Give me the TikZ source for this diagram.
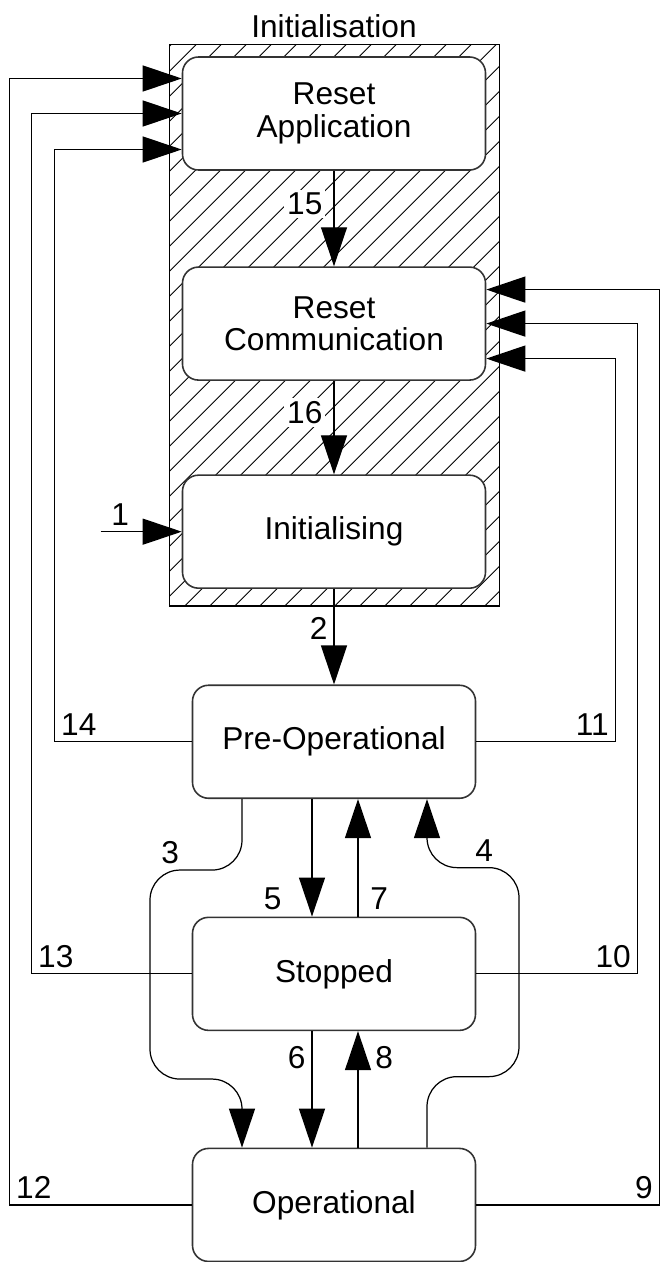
\documentclass[tikz,border=0pt]{standalone}
\usepackage{fontspec}
\setmainfont{Liberation Sans}
\usetikzlibrary{positioning,calc,arrows.meta,backgrounds}
\begin{document}
\begin{tikzpicture}[x=0.2mm,y=0.2mm,font=\fontsize{18}{18.5}\selectfont]
    \tikzset{statebox/.style={draw=black!80,line width=0.9pt,fill=white,
        rounded corners=3.2mm,minimum width=56.6mm,minimum height=22.6mm,
        align=center},resetbox/.style={statebox,minimum width=60.6mm},
      trans/.style={draw,line width=0.7pt,->,>={Triangle[length=7.8mm,width=5.2mm]}},
      hatch/.style={line width=0.5pt},frame/.style={draw,line width=0.8pt},
      lab/.style={fill=white,inner sep=0.6mm}}
    \useasboundingbox (0,0) rectangle (661,-1262);
    \node[resetbox] (ra) at (334,-113.5) {Reset\\Application};
    \node[resetbox] (rc) [below=19.1mm of ra] {Reset\\Communication};
    \node[resetbox] (init) [below=18.7mm of rc] {Initialising};
    \node[statebox] (pre) [below=19.1mm of init] {Pre-Operational};
    \node[statebox] (st) [below=23.5mm of pre] {Stopped};
    \node[statebox] (op) [below=23.3mm of st] {Operational};

    \begin{scope}[on background layer]
      \coordinate (hatchnw) at ($(ra.north west)+(-12,12)$);
      \coordinate (hatchse) at ($(init.south east)+(13,-17)$);
      \clip (hatchnw) rectangle (hatchse);
      \foreach \k in {0,...,36}
        \draw[hatch] ($(hatchnw |- hatchse)+(\k*25-560,0)$) -- ++(600,600);
    \end{scope}
    \draw[frame] (hatchnw) rectangle (hatchse);
    \node[above] (title) at (hatchnw -| ra) {Initialisation};

    \coordinate (entry) at ($(init.west)+(-81,0)$);
    \draw[trans] (entry) -- node[above,pos=0.24] {1} (init.west);
    \draw[trans] (ra) -- node[lab,left=1.6mm,pos=0.35] {15} (rc);
    \draw[trans] (rc) -- node[lab,left=1.6mm,pos=0.34] {16} (init);
    \draw[trans] (init) -- node[left,pos=0.41] {2} (pre);

    \draw[trans] ($(pre.south)+(-22,0)$) -- node[left=4.8mm,pos=0.85] {5} ($(st.north)+(-22,0)$);
    \draw[trans] ($(st.north)+(24,0)$) -- node[right=1.2mm,pos=0.15] {7} ($(pre.south)+(24,0)$);
    \draw[trans] ($(st.south)+(-22,0)$) -- node[left,pos=0.23] {6} ($(op.north)+(-22,0)$);
    \draw[trans] ($(op.north)+(24,0)$) -- node[right=2.2mm,pos=0.77] {8} ($(st.south)+(24,0)$);

    \draw[trans,rounded corners=6mm] ($(pre.south)+(-92,0)$) -- ++(0,-71)
      -- node[above,pos=0.78] {3} ++(-92,0) -- ++(0,-209) -- ++(92,0)
      -- ($(op.north)+(-92,0)$);
    \draw[trans,rounded corners=6mm] ($(op.north)+(93,0)$) -- ++(0,71)
      -- ++(92,0) -- ++(0,209) -- node[above,pos=0.38] {4} ++(-92,0)
      -- ($(pre.south)+(93,0)$);

    \draw[trans] (op.west) -| node[above right] {12} ($(ra.west)+(-172,35)$) -- ($(ra.west)+(0,35)$);
    \draw[trans] (st.west) -| node[above right] {13} ($(ra.west)+(-150,0)$) -- (ra.west);
    \draw[trans] (pre.west) -| node[above right] {14} ($(ra.west)+(-127,-36)$) -- ($(ra.west)+(0,-36)$);
    \draw[trans] (op.east) -| node[above left] {9} ($(rc.east)+(173,34)$) -- ($(rc.east)+(0,34)$);
    \draw[trans] (st.east) -| node[above left] {10} ($(rc.east)+(151,0)$) -- (rc.east);
    \draw[trans] (pre.east) -| node[above left] {11} ($(rc.east)+(129,-35)$) -- ($(rc.east)+(0,-35)$);

  \end{tikzpicture}
\end{document}
